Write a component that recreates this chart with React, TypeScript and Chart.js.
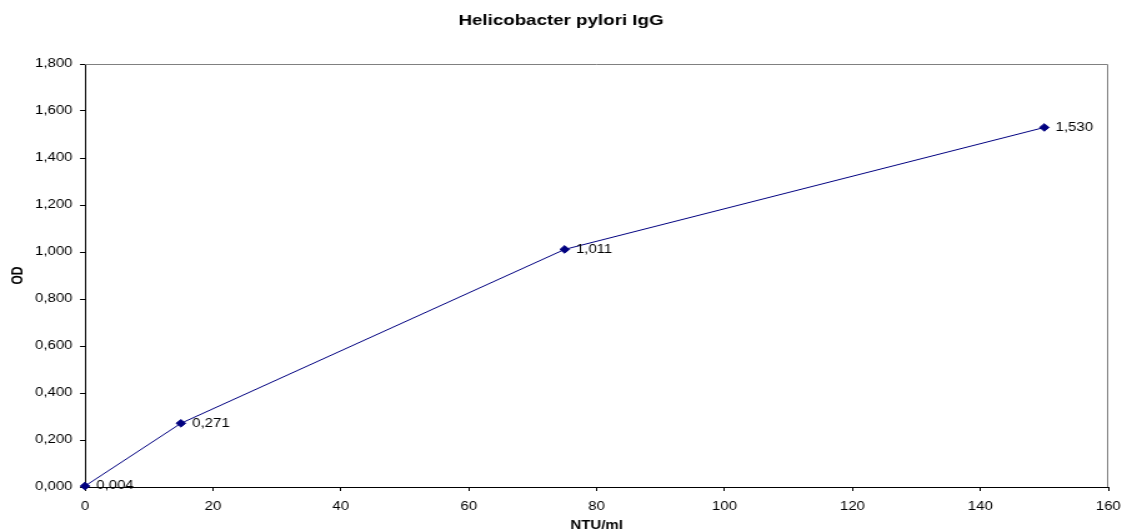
import React, { useEffect, useRef } from 'react';
import { Chart, ChartConfiguration, Plugin, registerables } from 'chart.js';

Chart.register(...registerables);

// standard curve points
const concentrations = [0, 15, 75, 150];
const odValues = [0.004, 0.271, 1.011, 1.53];

const chartTitle = 'Helicobacter pylori IgG';
const xTitle = 'NTU/ml';
const yTitle = 'OD';

// the original picture is stretched sideways, so draw narrow and scale with css
const STRETCH = 1.25;
const VIEW_W = 1122;
const VIEW_H = 531;

const fmt = (v: number) => v.toFixed(3).replace('.', ',');

// gray top and right edges of the plot frame
const frameEdges: Plugin = {
  id: 'frameEdges',
  beforeDatasetsDraw(chart) {
    const { ctx, chartArea } = chart;
    ctx.save();
    ctx.strokeStyle = '#808080';
    ctx.lineWidth = 1;
    ctx.beginPath();
    ctx.moveTo(chartArea.left, chartArea.top + 0.5);
    ctx.lineTo(chartArea.right - 0.5, chartArea.top + 0.5);
    ctx.lineTo(chartArea.right - 0.5, chartArea.bottom);
    ctx.stroke();
    ctx.restore();
  },
};

// value labels to the right of each marker
const pointLabels: Plugin = {
  id: 'pointLabels',
  afterDatasetsDraw(chart) {
    const { ctx } = chart;
    const meta = chart.getDatasetMeta(0);
    ctx.save();
    ctx.font = '12px "Liberation Sans", Arial, sans-serif';
    ctx.fillStyle = '#000';
    ctx.textBaseline = 'middle';
    ctx.textAlign = 'left';
    meta.data.forEach((el, i) => {
      ctx.fillText(fmt(odValues[i]), el.x + 9, el.y);
    });
    ctx.restore();
  },
};

const App: React.FC = () => {
  const canvasRef = useRef<HTMLCanvasElement>(null);

  useEffect(() => {
    if (!canvasRef.current) return;
    const font = { family: '"Liberation Sans", Arial, sans-serif', size: 12 };

    const config: ChartConfiguration<'line'> = {
      type: 'line',
      data: {
        datasets: [
          {
            data: concentrations.map((x, i) => ({ x, y: odValues[i] })),
            borderColor: '#000080',
            backgroundColor: '#000080',
            borderWidth: 1,
            pointStyle: 'rectRot',
            pointRadius: 3.8,
            pointBorderWidth: 1,
            tension: 0,
            clip: false,
          },
        ],
      },
      options: {
        responsive: false,
        animation: false,
        devicePixelRatio: 1,
        layout: { padding: 0 },
        plugins: {
          legend: { display: false },
          tooltip: { enabled: false },
          title: {
            display: true,
            text: chartTitle,
            color: '#000',
            font: { family: font.family, size: 15, weight: 'bold' },
            padding: { top: 12, bottom: 34 },
          },
        },
        scales: {
          x: {
            type: 'linear',
            min: 0,
            max: 160,
            afterFit: (s) => {
              s.height = 44;
              s.paddingRight = 11;
              s.paddingLeft = 0;
            },
            ticks: { stepSize: 20, color: '#000', font, padding: 8, maxRotation: 0 },
            grid: { drawOnChartArea: false, tickLength: 4, color: '#000' },
            border: { color: '#000', width: 1 },
            title: {
              display: true,
              text: xTitle,
              color: '#000',
              font: { family: font.family, size: 12, weight: 'bold' },
              padding: { top: 0, bottom: -2 },
            },
          },
          y: {
            type: 'linear',
            min: 0,
            max: 1.8,
            afterFit: (s) => {
              s.width = 68;
            },
            ticks: {
              stepSize: 0.2,
              color: '#000',
              font,
              padding: 6,
              callback: (v) => fmt(Number(v)),
            },
            grid: { drawOnChartArea: false, tickLength: 4, color: '#000' },
            border: { color: '#000', width: 1 },
            title: {
              display: true,
              text: yTitle,
              color: '#000',
              font: { family: font.family, size: 12, weight: 'bold' },
              padding: { top: 7, bottom: 0 },
            },
          },
        },
      },
      plugins: [frameEdges, pointLabels],
    };

    const chart = new Chart(canvasRef.current, config);
    return () => chart.destroy();
  }, []);

  return (
    <div style={{ position: 'absolute', left: 0, top: 0, width: VIEW_W, height: VIEW_H, background: '#fff' }}>
      <canvas
        ref={canvasRef}
        width={Math.round(VIEW_W / STRETCH)}
        height={VIEW_H}
        style={{ width: VIEW_W, height: VIEW_H, display: 'block' }}
      />
    </div>
  );
};

export default App;
